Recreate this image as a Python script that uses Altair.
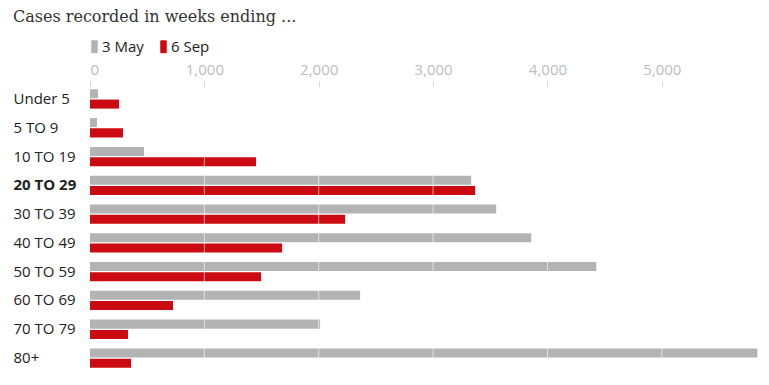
import altair as alt
import pandas as pd

categories = ["Under 5", "5 TO 9", "10 TO 19", "20 TO 29", "30 TO 39",
              "40 TO 49", "50 TO 59", "60 TO 69", "70 TO 79", "80+"]
may_3 = [70, 61, 472, 3333, 3552, 3858, 4427, 2362, 2012, 5836]
sep_6 = [254, 289, 1452, 3368, 2231, 1680, 1496, 726, 332, 359]
series = ["3 May", "6 Sep"]
tick_values = [0, 1000, 2000, 3000, 4000, 5000]
grid_values = [1000, 2000, 3000, 4000, 5000]

rows = []
for c, a, b in zip(categories, may_3, sep_6):
    rows.append({"age": c, "week": series[0], "cases": a})
    rows.append({"age": c, "week": series[1], "cases": b})
df = pd.DataFrame(rows)
grid_df = pd.DataFrame({"v": grid_values})

x_scale = alt.Scale(domain=[0, 5850], nice=False, zero=True)

swatch = ("M-0.5,-0.84Q-0.5,-1 -0.34,-1L0.34,-1Q0.5,-1 0.5,-0.84"
          "L0.5,0.84Q0.5,1 0.34,1L-0.34,1Q-0.5,1 -0.5,0.84Z")

bars = alt.Chart(df).mark_bar().encode(
    x=alt.X("cases:Q", scale=x_scale,
            axis=alt.Axis(orient="top", values=tick_values, format=",.0f", title=None,
                          domain=False, grid=False, ticks=True, tickSize=6,
                          tickColor="#d4d4d4", labelColor="#bdbdbd",
                          labelFont="Open Sans", labelFontSize=15, labelPadding=4,
                          labelFlush=True)),
    y=alt.Y("age:N", sort=categories,
            scale=alt.Scale(paddingInner=0.33, paddingOuter=0.08),
            axis=alt.Axis(title=None, domain=False, ticks=False, labelAlign="left",
                          labelPadding=77, labelFont="Open Sans", labelFontSize=15,
                          labelColor="#222222",
                          labelFontWeight=alt.expr("datum.value == '20 TO 29' ? 'bold' : 'normal'"))),
    yOffset=alt.YOffset("week:N", sort=series, scale=alt.Scale(paddingInner=0.12)),
    color=alt.Color("week:N", sort=series,
                    scale=alt.Scale(domain=series, range=["#b3b3b3", "#cc0a11"]),
                    legend=alt.Legend(title=None, orient="none", legendX=-3, legendY=-48,
                                      direction="horizontal", padding=0,
                                      symbolType=swatch,
                                      symbolSize=169, symbolStrokeWidth=0,
                                      labelFont="Open Sans", labelFontSize=15,
                                      labelColor="#222222", labelOffset=0,
                                      columnPadding=12)),
)

grid = alt.Chart(grid_df).mark_rule(color="white", opacity=0.6, strokeWidth=1).encode(
    x=alt.X("v:Q", scale=x_scale)
)

chart = alt.layer(bars, grid).properties(
    width=669, height=283,
    title=alt.TitleParams("Cases recorded in weeks ending ...", anchor="start",
                          font="DejaVu Serif", fontSize=16, fontWeight="normal",
                          color="#333333", offset=14),
    autosize=alt.AutoSizeParams(type="none"),
    padding={"left": 82, "top": 79, "right": 2, "bottom": 7},
).configure_view(stroke=None)

chart.save("out.html", embed_options={"renderer": "svg", "actions": False})
